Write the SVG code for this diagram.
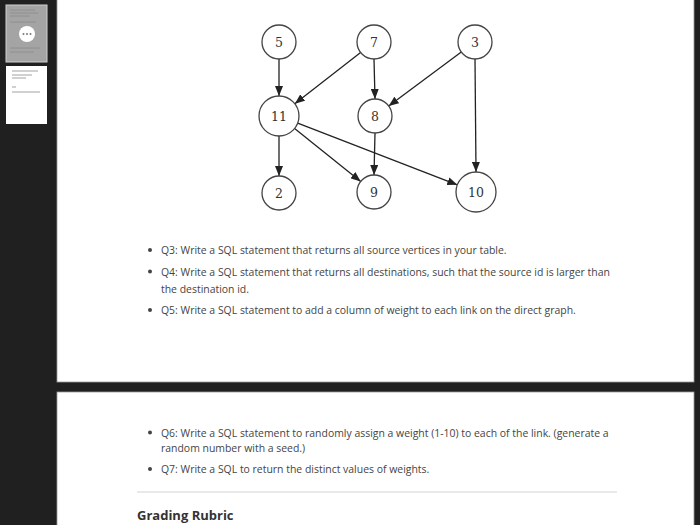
<svg xmlns="http://www.w3.org/2000/svg" width="700" height="525" viewBox="0 0 700 525">
<style>
.node circle{fill:#fff;stroke:#444;stroke-width:1.3}
.node text{font-family:"DejaVu Serif","Liberation Serif",serif;font-size:12.5px;fill:#333;text-anchor:middle;dominant-baseline:central}
.edge{stroke:#222;stroke-width:1.3;fill:none;marker-end:url(#arr)}
.t{font-family:"Open Sans","Noto Sans",sans-serif;font-size:10.45px;fill:#444}
.h{font-family:"Open Sans","Noto Sans",sans-serif;font-size:13px;font-weight:bold;fill:#333}
.thl{stroke:#8a8a8a;stroke-width:0.8}
</style>
<defs>
<marker id="arr" markerUnits="userSpaceOnUse" markerWidth="10" markerHeight="8" refX="10" refY="4" orient="auto">
<path d="M0,0 L10,4 L0,8 z" fill="#222"/>
</marker>
</defs>
<rect x="0" y="0" width="700" height="525" fill="#202020"/>
<!-- sidebar thumbnails -->
<g id="thumb1">
<rect x="6" y="5" width="41" height="57" fill="#a4a4a4" stroke="#d0d0d0" stroke-width="1"/>
<line class="thl" x1="10" y1="10" x2="35" y2="10"/>
<line class="thl" x1="10" y1="13" x2="38" y2="13"/>
<line class="thl" x1="10" y1="16" x2="30" y2="16"/>
<line class="thl" x1="10" y1="22" x2="36" y2="22"/>
<line class="thl" x1="10" y1="48" x2="40" y2="48"/>
<line class="thl" x1="10" y1="52" x2="34" y2="52"/>
<circle cx="27" cy="34" r="8" fill="#fff"/>
<circle cx="23.5" cy="34" r="1" fill="#777"/>
<circle cx="27" cy="34" r="1" fill="#777"/>
<circle cx="30.5" cy="34" r="1" fill="#777"/>
</g>
<g id="thumb2">
<rect x="6" y="66" width="41" height="58" fill="#fff"/>
<line class="thl" x1="12" y1="71" x2="38" y2="71" stroke-width="0.5"/>
<line class="thl" x1="12" y1="75" x2="32" y2="75" stroke-width="0.5"/>
<line class="thl" x1="12" y1="78" x2="26" y2="78" stroke-width="0.5"/>
<line class="thl" x1="12" y1="87" x2="16" y2="87" stroke-width="0.5"/>
<line class="thl" x1="12" y1="92" x2="40" y2="92" stroke-width="0.5"/>
</g>
<!-- pages -->
<rect x="57" y="-2" width="637" height="384" fill="#fff" stroke="#999" stroke-width="0.8"/>
<rect x="57" y="392" width="637" height="140" fill="#fff" stroke="#999" stroke-width="0.8"/>
<!-- connectors -->
<g id="edges">
<line class="edge" x1="279" y1="59" x2="279" y2="96"/>
<line class="edge" x1="360.6" y1="52.5" x2="294.8" y2="103.7"/>
<line class="edge" x1="374" y1="59" x2="375" y2="99"/>
<line class="edge" x1="461.3" y1="52.1" x2="388.7" y2="105.9"/>
<line class="edge" x1="475" y1="59" x2="476" y2="172"/>
<line class="edge" x1="279" y1="136" x2="279" y2="176"/>
<line class="edge" x1="294.6" y1="128.5" x2="360.7" y2="181.4"/>
<line class="edge" x1="297.7" y1="123.2" x2="457.3" y2="184.8"/>
<line class="edge" x1="375" y1="133" x2="374" y2="175"/>
</g>
<g id="n5" class="node"><circle cx="279" cy="42" r="17"/><text x="279" y="42">5</text></g>
<g id="n7" class="node"><circle cx="374" cy="42" r="17"/><text x="374" y="42">7</text></g>
<g id="n3" class="node"><circle cx="475" cy="42" r="17"/><text x="475" y="42">3</text></g>
<g id="n11" class="node"><circle cx="279" cy="116" r="20"/><text x="279" y="116">11</text></g>
<g id="n8" class="node"><circle cx="375" cy="116" r="17"/><text x="375" y="116">8</text></g>
<g id="n2" class="node"><circle cx="279" cy="193" r="17"/><text x="279" y="193">2</text></g>
<g id="n9" class="node"><circle cx="374" cy="192" r="17"/><text x="374" y="192">9</text></g>
<g id="n10" class="node"><circle cx="476" cy="192" r="20"/><text x="476" y="192">10</text></g>
<!-- text -->
<g id="text1">
<circle cx="150" cy="250" r="2" fill="#444"/>
<text class="t" x="161" y="254">Q3: Write a SQL statement that returns all source vertices in your table.</text>
<circle cx="150" cy="271.5" r="2" fill="#444"/>
<text class="t" x="161" y="275.5">Q4: Write a SQL statement that returns all destinations, such that the source id is larger than</text>
<text class="t" x="161" y="293">the destination id.</text>
<circle cx="150" cy="310" r="2" fill="#444"/>
<text class="t" x="161" y="314">Q5: Write a SQL statement to add a column of weight to each link on the direct graph.</text>
</g>
<g id="text2">
<circle cx="150" cy="432.5" r="2" fill="#444"/>
<text class="t" x="161" y="436.5">Q6: Write a SQL statement to randomly assign a weight (1-10) to each of the link. (generate a</text>
<text class="t" x="161" y="452">random number with a seed.)</text>
<circle cx="150" cy="469" r="2" fill="#444"/>
<text class="t" x="161" y="473">Q7: Write a SQL to return the distinct values of weights.</text>
<line x1="137" y1="492" x2="617" y2="492" stroke="#e2e2e2" stroke-width="1.5"/>
<text class="h" x="137" y="520">Grading Rubric</text>
</g>
</svg>
